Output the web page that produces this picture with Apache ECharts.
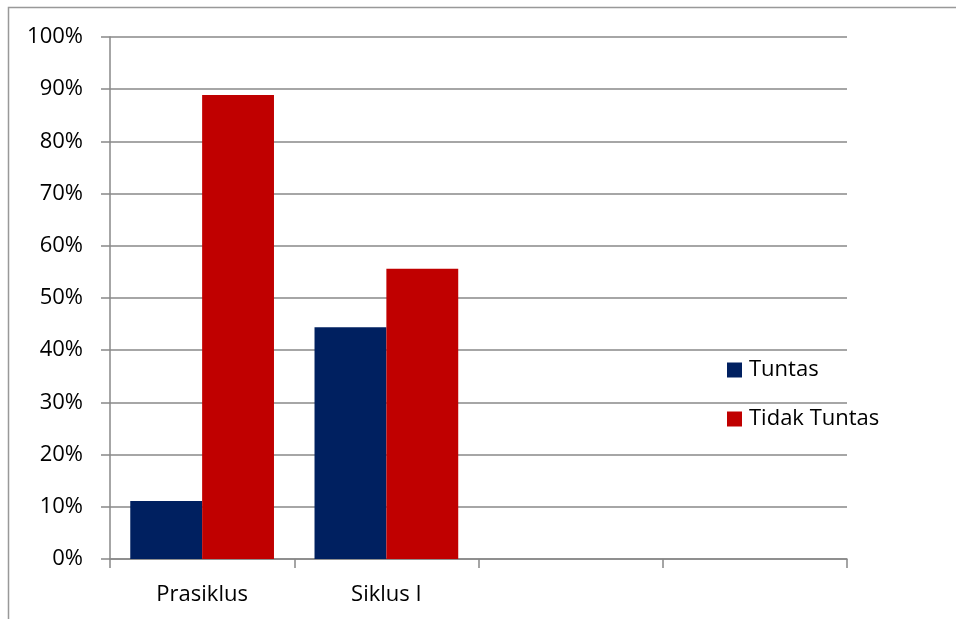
<!DOCTYPE html>
<html>
<head>
<meta charset="utf-8">
<script src="https://cdn.jsdelivr.net/npm/echarts@6/dist/echarts.min.js"></script>
<style>
html,body{margin:0;padding:0;background:#fff;}
#c{width:956px;height:619px;}
</style>
</head>
<body>
<div id="c"></div>
<script>
var categories = ['Prasiklus', 'Siklus I', '', ''];
var tuntas = [11.1, 44.4, null, null];
var tidakTuntas = [88.9, 55.6, null, null];
var seriesNames = ['Tuntas', 'Tidak Tuntas'];

var font = 'Open Sans, Liberation Sans, sans-serif';
var chart = echarts.init(document.getElementById('c'), null, {renderer: 'canvas'});
chart.setOption({
  animation: false,
  backgroundColor: '#fff',
  graphic: [{
    type: 'rect',
    shape: {x: 8.5, y: 7.5, width: 1200, height: 1200},
    style: {fill: 'none', stroke: '#999', lineWidth: 1.5}
  }],
  grid: {left: 110, right: 109, top: 37, bottom: 60, containLabel: false},
  legend: {
    orient: 'vertical', left: 727, top: 359, padding: 0,
    itemWidth: 15, itemHeight: 15, itemGap: 27,
    icon: 'rect',
    textStyle: {fontFamily: font, fontSize: 22, color: '#000', padding: [0,0,0,2]},
    data: seriesNames
  },
  xAxis: {
    type: 'category', data: categories,
    axisLine: {lineStyle: {color: '#888', width: 1.5}},
    axisTick: {show: true, length: 9, alignWithLabel: false, lineStyle: {color: '#888', width: 1.5}},
    axisLabel: {fontFamily: font, fontSize: 22, color: '#000', margin: 25}
  },
  yAxis: {
    type: 'value', min: 0, max: 100, interval: 10,
    axisLine: {show: true, lineStyle: {color: '#888', width: 1.5}},
    axisTick: {show: true, length: 9, lineStyle: {color: '#888', width: 1.5}},
    splitLine: {lineStyle: {color: '#888', width: 1.5}},
    axisLabel: {fontFamily: font, fontSize: 22, color: '#000', margin: 27, formatter: '{value}%'}
  },
  series: [
    {name: seriesNames[0], type: 'bar', data: tuntas, barGap: '0%', barCategoryGap: '22%', itemStyle: {color: '#002060'}},
    {name: seriesNames[1], type: 'bar', data: tidakTuntas, barGap: '0%', barCategoryGap: '22%', itemStyle: {color: '#C00000'}}
  ]
});
</script>
</body>
</html>
